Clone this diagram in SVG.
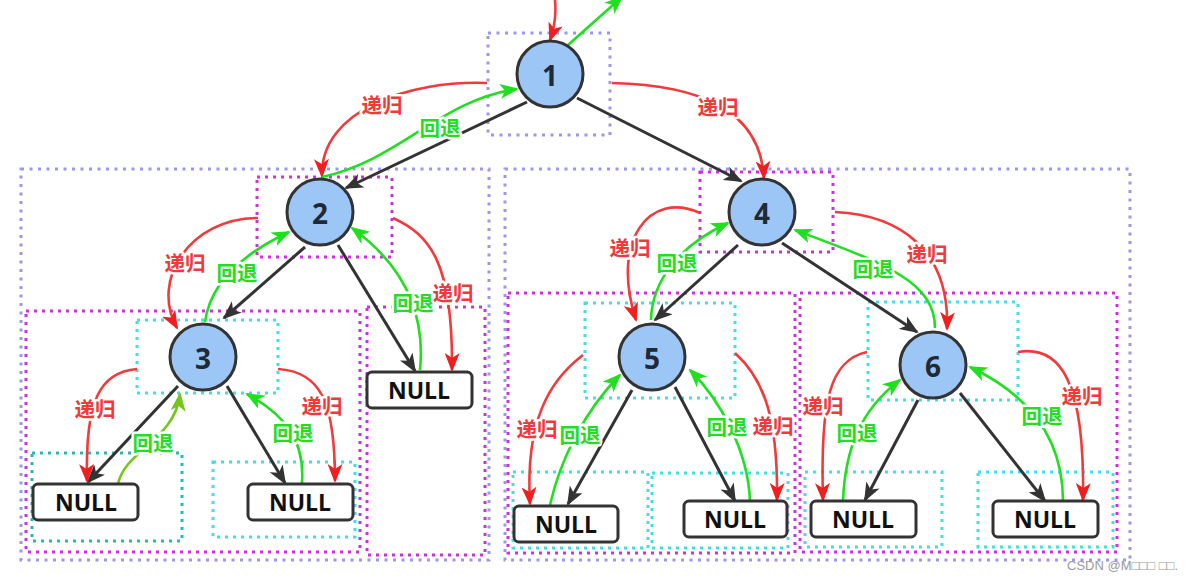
<svg xmlns="http://www.w3.org/2000/svg" width="1193" height="581" viewBox="0 0 1193 581">
<style>
.bg{fill:#ffffff}
.lav{fill:none;stroke:#9a98ec;stroke-width:3;stroke-dasharray:3 5.5}
.mag{fill:none;stroke:#d22ee0;stroke-width:3;stroke-dasharray:3 5}
.cya{fill:none;stroke:#3fe0e4;stroke-width:3;stroke-dasharray:3 5}
.teal{fill:none;stroke:#2bb8b4;stroke-width:3;stroke-dasharray:3 5}
.node circle{fill:#9cc6f6;stroke:#333;stroke-width:3}
.node text{font-family:"Open Sans","Liberation Sans",sans-serif;font-weight:bold;font-size:28px;fill:#1f2a36;text-anchor:middle;dominant-baseline:central}
.null rect{fill:#fff;stroke:#333;stroke-width:3}
.null text{font-family:"Open Sans","Liberation Sans",sans-serif;font-weight:bold;font-size:23px;fill:#111;text-anchor:middle;dominant-baseline:central}
.e{fill:none;stroke:#333;stroke-width:3;marker-end:url(#ak)}
.r{fill:none;stroke:#f23a3a;stroke-width:2.6;marker-end:url(#ar)}
.g{fill:none;stroke:#1fe01f;stroke-width:2.6;marker-end:url(#ag)}
.o{fill:none;stroke:#76c61a;stroke-width:2.6;marker-end:url(#ao)}
.lr,.lg{font-family:"Noto Sans CJK SC",sans-serif;font-weight:bold;font-size:20.5px;text-anchor:middle;dominant-baseline:central;paint-order:stroke;stroke:#fff;stroke-width:5;stroke-linejoin:round}
.lr{fill:#f03a3a}
.lg{fill:#22dd22}
.wm{font-family:"Liberation Sans",sans-serif;font-size:13px;fill:#9a9a9a;text-anchor:end}
</style>
<defs>
<marker id="ak" markerUnits="userSpaceOnUse" markerWidth="19" markerHeight="15" viewBox="0 0 19 15" refX="17" refY="7.5" orient="auto"><path d="M0,0 L19,7.5 L0,15 L5,7.5 z" fill="#333"/></marker>
<marker id="ar" markerUnits="userSpaceOnUse" markerWidth="19" markerHeight="15" viewBox="0 0 19 15" refX="17" refY="7.5" orient="auto"><path d="M0,0 L19,7.5 L0,15 L5,7.5 z" fill="#f01e1e"/></marker>
<marker id="ag" markerUnits="userSpaceOnUse" markerWidth="19" markerHeight="15" viewBox="0 0 19 15" refX="17" refY="7.5" orient="auto"><path d="M0,0 L19,7.5 L0,15 L5,7.5 z" fill="#1fe01f"/></marker>
<marker id="ao" markerUnits="userSpaceOnUse" markerWidth="19" markerHeight="15" viewBox="0 0 19 15" refX="17" refY="7.5" orient="auto"><path d="M0,0 L19,7.5 L0,15 L5,7.5 z" fill="#76c61a"/></marker>
</defs>
<rect class="bg" x="0" y="0" width="1193" height="581"/>

<g id="boxes">
<rect class="lav" x="488" y="33" width="122" height="102"/>
<rect class="lav" x="21" y="169" width="468" height="391"/>
<rect class="lav" x="505" y="169" width="625" height="391"/>
<rect class="mag" x="257" y="177" width="135" height="80"/>
<rect class="mag" x="26" y="311" width="334" height="241"/>
<rect class="mag" x="367" y="307" width="118" height="248"/>
<rect class="mag" x="700" y="172" width="133" height="80"/>
<rect class="mag" x="508" y="293" width="287" height="260"/>
<rect class="mag" x="800" y="293" width="317" height="259"/>
<rect class="cya" x="137" y="320" width="141" height="73"/>
<rect class="teal" x="32" y="453" width="150" height="88"/>
<rect class="cya" x="213" y="462" width="142" height="75"/>
<rect class="cya" x="585" y="303" width="150" height="95"/>
<rect class="cya" x="513" y="472" width="135" height="76"/>
<rect class="cya" x="652" y="473" width="136" height="75"/>
<rect class="cya" x="868" y="302" width="150" height="98"/>
<rect class="cya" x="805" y="472" width="137" height="75"/>
<rect class="cya" x="978" y="472" width="135" height="75"/>
</g>

<g id="connectors">
<path class="e" d="M527,102 L346,188"/>
<path class="e" d="M577,98 L741,181"/>
<path class="e" d="M305,247 L224,318"/>
<path class="e" d="M338,245 L415,371"/>
<path class="e" d="M178,386 L88,482"/>
<path class="e" d="M227,386 L285,483"/>
<path class="e" d="M738,245 L655,320"/>
<path class="e" d="M782,243 L917,332"/>
<path class="e" d="M632,390 L568,504"/>
<path class="e" d="M675,387 L735,501"/>
<path class="e" d="M918,400 L865,500"/>
<path class="e" d="M960,393 L1045,501"/>

<path class="r" d="M555,0 Q557,20 550,40"/>
<path class="g" d="M568,45 L622,-3"/>
<path class="r" d="M487,83 C410,80 320,110 322,176"/>
<path class="g" d="M322,177 C400,160 440,100 517,89"/>
<path class="r" d="M612,83 C700,85 760,110 764,178"/>

<path class="r" d="M258,218 C190,218 150,280 177,328"/>
<path class="g" d="M205,322 C210,285 240,255 289,232"/>
<path class="r" d="M393,218 C430,235 453,262 452,370"/>
<path class="g" d="M420,370 C425,320 410,270 352,228"/>

<path class="r" d="M137,369 C100,372 85,400 87,481"/>
<path class="o" d="M118,484 C125,450 175,440 180,394"/>
<path class="r" d="M278,369 C320,372 335,400 335,481"/>
<path class="g" d="M302,483 C305,440 285,415 247,394"/>

<path class="r" d="M700,213 C650,190 610,240 636,320"/>
<path class="g" d="M651,320 C652,280 680,245 728,223"/>
<path class="r" d="M835,212 C900,215 950,250 947,329"/>
<path class="g" d="M935,328 C935,280 880,262 795,230"/>

<path class="r" d="M583,355 C550,380 525,420 530,504"/>
<path class="g" d="M550,505 C560,460 585,410 620,375"/>
<path class="r" d="M735,353 C765,380 778,420 777,500"/>
<path class="g" d="M750,501 C748,450 720,400 690,370"/>

<path class="r" d="M867,352 C830,360 820,400 823,500"/>
<path class="g" d="M843,501 C845,450 860,410 900,380"/>
<path class="r" d="M1018,352 C1060,345 1085,380 1083,500"/>
<path class="g" d="M1063,501 C1063,450 1040,400 970,367"/>
</g>

<g id="labels">
<text class="lr" x="382" y="104">递归</text>
<text class="lg" x="440" y="127">回退</text>
<text class="lr" x="718" y="106">递归</text>
<text class="lr" x="185" y="262">递归</text>
<text class="lg" x="237" y="272">回退</text>
<text class="lr" x="453" y="292">递归</text>
<text class="lg" x="413" y="302">回退</text>
<text class="lr" x="95" y="408">递归</text>
<text class="lg" x="153" y="442">回退</text>
<text class="lr" x="322" y="405">递归</text>
<text class="lg" x="293" y="432">回退</text>
<text class="lr" x="630" y="247">递归</text>
<text class="lg" x="677" y="262">回退</text>
<text class="lr" x="927" y="253">递归</text>
<text class="lg" x="873" y="268">回退</text>
<text class="lr" x="537" y="428">递归</text>
<text class="lg" x="580" y="434">回退</text>
<text class="lg" x="727" y="426">回退</text>
<text class="lr" x="773" y="425">递归</text>
<text class="lr" x="823" y="405">递归</text>
<text class="lg" x="857" y="432">回退</text>
<text class="lr" x="1082" y="395">递归</text>
<text class="lg" x="1042" y="415">回退</text>
</g>

<g id="n1" class="node"><circle cx="550" cy="74" r="33"/><text x="550" y="75">1</text></g>
<g id="n2" class="node"><circle cx="320" cy="212" r="33"/><text x="320" y="213">2</text></g>
<g id="n3" class="node"><circle cx="203" cy="357" r="33"/><text x="203" y="358">3</text></g>
<g id="n4" class="node"><circle cx="762" cy="212" r="33"/><text x="762" y="213">4</text></g>
<g id="n5" class="node"><circle cx="652" cy="357" r="33"/><text x="652" y="358">5</text></g>
<g id="n6" class="node"><circle cx="933" cy="365" r="33"/><text x="933" y="366">6</text></g>

<g id="null2r" class="null"><rect x="367" y="372" width="105" height="36" rx="5"/><text x="419" y="390">NULL</text></g>
<g id="null3l" class="null"><rect x="33" y="484" width="105" height="36" rx="5"/><text x="86" y="502">NULL</text></g>
<g id="null3r" class="null"><rect x="248" y="484" width="105" height="36" rx="5"/><text x="300" y="502">NULL</text></g>
<g id="null5l" class="null"><rect x="514" y="506" width="104" height="36" rx="5"/><text x="566" y="524">NULL</text></g>
<g id="null5r" class="null"><rect x="684" y="501" width="103" height="36" rx="5"/><text x="735" y="519">NULL</text></g>
<g id="null6l" class="null"><rect x="811" y="501" width="105" height="36" rx="5"/><text x="863" y="519">NULL</text></g>
<g id="null6r" class="null"><rect x="993" y="501" width="105" height="36" rx="5"/><text x="1045" y="519">NULL</text></g>

<text class="wm" x="1178" y="570">CSDN @M□□□ □□.</text>
</svg>
